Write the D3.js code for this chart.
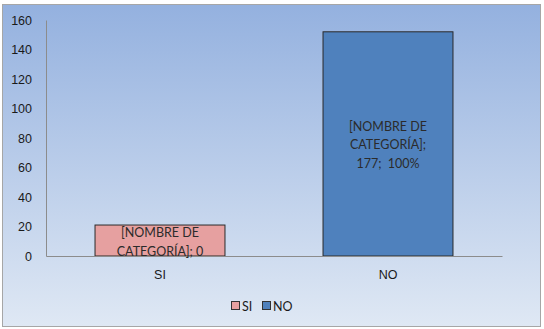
<!DOCTYPE html>
<html>
<head>
<meta charset="utf-8">
<script src="https://cdn.jsdelivr.net/npm/d3@7"></script>
<style>
  body { margin: 0; background: #fff; }
  svg { display: block; font-family: "Lato", "Open Sans", sans-serif; }
</style>
</head>
<body>
<svg id="chart" width="544" height="329"></svg>
<script>
const categories = ["SI", "NO"];
const values = [21, 152];
const barLabels = [["[NOMBRE DE", "CATEGORÍA]; 0"], ["[NOMBRE DE", "CATEGORÍA];", "177;\u00a0 100%"]];
const yTicks = [0, 20, 40, 60, 80, 100, 120, 140, 160];
const colors = ["#e6a0a0", "#4f81bd"];

const svg = d3.select("#chart");

// background gradient
const defs = svg.append("defs");
const grad = defs.append("linearGradient")
  .attr("id", "bg")
  .attr("x1", 0).attr("y1", 0).attr("x2", 0).attr("y2", 1);
grad.append("stop").attr("offset", "0%").attr("stop-color", "#94b1df");
grad.append("stop").attr("offset", "100%").attr("stop-color", "#dfe8f4");

svg.append("rect")
  .attr("x", 2.5).attr("y", 4.5)
  .attr("width", 538).attr("height", 322)
  .attr("fill", "url(#bg)")
  .attr("stroke", "#a6a6a6");

const margin = { top: 20, left: 46 };
const width = 456;
const height = 236;

const g = svg.append("g")
  .attr("transform", `translate(${margin.left}, ${margin.top})`);

const xScale = d3.scaleBand()
  .domain(categories)
  .range([0, width])
  .paddingInner(0.43)
  .paddingOuter(0.215);

const yScale = d3.scaleLinear()
  .domain([0, 160])
  .range([height, 0]);

// y axis
const yAxis = g.append("g")
  .call(d3.axisLeft(yScale).tickValues(yTicks).tickSize(0).tickPadding(14));
yAxis.select(".domain").attr("stroke", "#8c8c8c");
yAxis.selectAll("text").attr("font-size", "12.5px").attr("fill", "#1a1a1a");

// bars
g.selectAll("rect.bar")
  .data(values)
  .enter()
  .append("rect")
  .attr("class", "bar")
  .attr("x", (d, i) => xScale(categories[i]))
  .attr("y", d => yScale(d))
  .attr("width", xScale.bandwidth())
  .attr("height", d => height - yScale(d))
  .attr("fill", (d, i) => colors[i])
  .attr("stroke", "#2a2a2a")
  .attr("stroke-width", 1);

// x axis
const xAxis = g.append("g")
  .attr("transform", `translate(0, ${height})`)
  .call(d3.axisBottom(xScale).tickSize(0).tickPadding(14));
xAxis.select(".domain").attr("stroke", "#8c8c8c");
xAxis.selectAll("text").attr("font-size", "12.5px").attr("fill", "#1a1a1a");

// data labels
barLabels.forEach((lines, i) => {
  const cx = xScale(categories[i]) + xScale.bandwidth() / 2;
  const startY = i === 0 ? yScale(values[i]) + 12 : yScale(values[i]) + 99;
  const t = g.append("text")
    .attr("text-anchor", "middle")
    .attr("font-size", "12.5px")
    .attr("fill", "#2b2b2b");
  lines.forEach((line, k) => {
    t.append("tspan")
      .attr("x", cx)
      .attr("y", startY + k * 18.5)
      .text(line);
  });
});

// legend
const legend = svg.append("g").attr("transform", "translate(231, 301)");
const legendX = [0, 31];
categories.forEach((c, i) => {
  legend.append("rect")
    .attr("x", legendX[i] + 0.5).attr("y", 0.5)
    .attr("width", 8).attr("height", 8)
    .attr("fill", colors[i])
    .attr("stroke", "#333");
  legend.append("text")
    .attr("x", legendX[i] + 11)
    .attr("y", 10)
    .attr("font-size", "12.5px")
    .attr("fill", "#1a1a1a")
    .text(c);
});
</script>
</body>
</html>
